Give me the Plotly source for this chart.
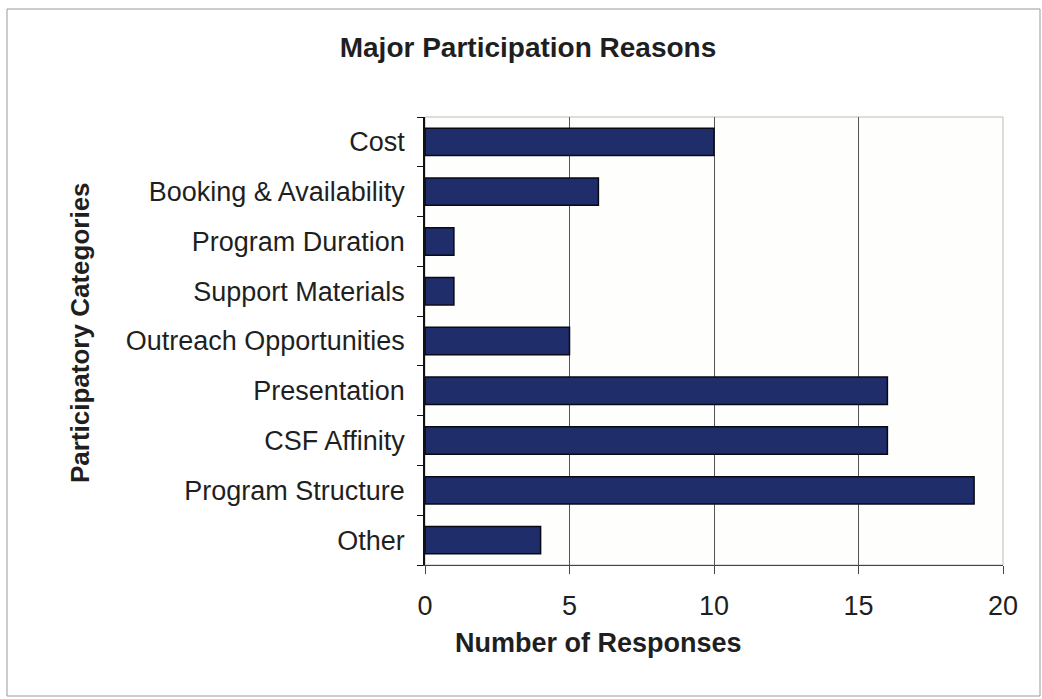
import plotly.graph_objects as go

categories = [
    "Cost",
    "Booking & Availability",
    "Program Duration",
    "Support Materials",
    "Outreach Opportunities",
    "Presentation",
    "CSF Affinity",
    "Program Structure",
    "Other",
]
responses = [10, 6, 1, 1, 5, 16, 16, 19, 4]
x_ticks = [0, 5, 10, 15, 20]

font_family = "Liberation Sans, Arial, sans-serif"
W, H = 1042, 699
L, R, T, B = 425, 39, 117, 134
PW, PH = W - L - R, H - T - B

fig = go.Figure(
    go.Bar(
        x=responses,
        y=categories,
        orientation="h",
        marker=dict(color="#1f2d6b", line=dict(color="#0a0a14", width=1.5)),
        width=0.55,
    )
)

fig.update_layout(
    width=W,
    height=H,
    margin=dict(l=L, r=R, t=T, b=B),
    paper_bgcolor="white",
    plot_bgcolor="#fefefc",
    showlegend=False,
    title=dict(
        text="<b>Major Participation Reasons</b>",
        x=528 / W,
        xanchor="center",
        y=1 - 47 / H,
        yanchor="middle",
        font=dict(family=font_family, size=28, color="#1f1f1f"),
    ),
    font=dict(family=font_family, size=27, color="#1f1f1f"),
)

fig.update_xaxes(
    range=[0, 20],
    tickvals=x_ticks,
    showgrid=True,
    gridcolor="#555555",
    gridwidth=1,
    zeroline=False,
    showline=True,
    linecolor="#444444",
    linewidth=1,
    ticks="outside",
    ticklen=8,
    tickcolor="#444444",
    tickfont=dict(size=27),
    ticklabelstandoff=9,
)

fig.update_yaxes(
    categoryorder="array",
    categoryarray=categories[::-1],
    showgrid=False,
    showline=True,
    linecolor="#111111",
    linewidth=1.5,
    ticks="outside",
    tickson="boundaries",
    ticklen=6,
    tickcolor="#111111",
    tickfont=dict(size=27),
    ticklabelstandoff=13,
)

# axis titles
fig.add_annotation(
    text="<b>Number of Responses</b>",
    xref="paper",
    yref="paper",
    x=(598 - L) / PW,
    y=-(643 - (T + PH)) / PH,
    xanchor="center",
    yanchor="middle",
    showarrow=False,
    font=dict(size=27),
)
fig.add_annotation(
    text="<b>Participatory Categories</b>",
    xref="paper",
    yref="paper",
    x=-(L - 80) / PW,
    y=1 - (333 - T) / PH,
    xanchor="center",
    yanchor="middle",
    textangle=-90,
    showarrow=False,
    font=dict(size=26),
)

# light frame around the plotting area (top and right edges)
fig.add_shape(
    type="rect",
    xref="paper",
    yref="paper",
    x0=0,
    y0=0,
    x1=1,
    y1=1,
    line=dict(color="#bbbbbb", width=1),
    layer="below",
)

# outer chart border
fig.add_shape(
    type="rect",
    xref="paper",
    yref="paper",
    x0=-(L - 7) / PW,
    y0=-(H - 3 - (T + PH)) / PH,
    x1=1 + (R - 2) / PW,
    y1=1 + (T - 9) / PH,
    line=dict(color="#999999", width=1),
)

fig.write_html("out.html")
